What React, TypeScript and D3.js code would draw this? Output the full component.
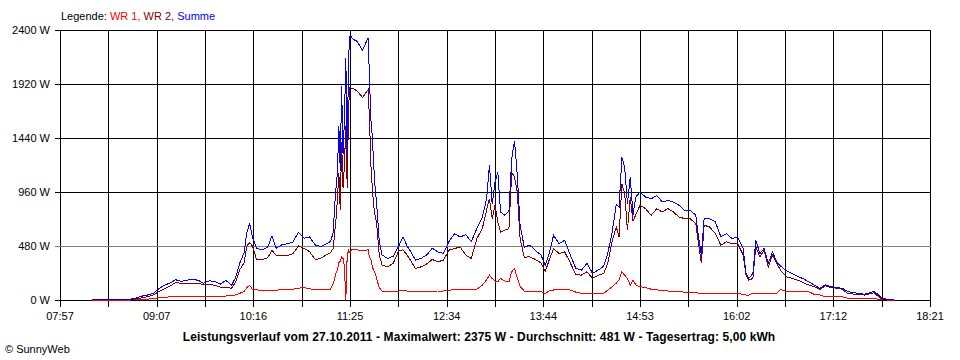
import React from 'react';
import * as d3 from 'd3';

// Zeitpunkte (HH:MM) und Leistung in W
const times = [
  '08:20','08:30','08:40','08:48','08:52','08:56','09:00','09:04','09:08','09:12','09:16','09:20','09:24','09:28','09:32','09:36',
  '09:40','09:44','09:48','09:52','09:56','10:00','10:03','10:06','10:09','10:11','10:13','10:15','10:18','10:22','10:26','10:29',
  '10:32','10:36','10:40','10:44','10:48','10:52','10:56','11:00','11:04','11:08','11:11','11:13','11:14','11:15','11:16','11:17',
  '11:18','11:19','11:20','11:21','11:22','11:23','11:24','11:25','11:26','11:27','11:30','11:34','11:38','11:39','11:40','11:41',
  '11:42','11:43','11:44','11:45','11:46','11:48','11:52','11:56','12:00','12:03','12:06','12:09','12:12','12:16','12:20','12:24',
  '12:28','12:32','12:36','12:40','12:44','12:48','12:52','12:56','13:00','13:03','13:05','13:07','13:09','13:11','13:13','13:16',
  '13:19','13:21','13:23','13:25','13:27','13:30','13:34','13:38','13:42','13:45','13:48','13:51','13:55','13:59','14:03','14:07',
  '14:11','14:15','14:19','14:23','14:27','14:30','14:33','14:36','14:38','14:40','14:42','14:44','14:46','14:48','14:50','14:53',
  '14:57','15:01','15:05','15:09','15:13','15:17','15:21','15:25','15:29','15:33','15:35','15:37','15:39','15:43','15:47','15:51',
  '15:55','15:59','16:03','16:07','16:09','16:11','16:14','16:16','16:19','16:22','16:25','16:28','16:31','16:34','16:38','16:42',
  '16:46','16:50','16:54','16:58','17:02','17:06','17:10','17:14','17:18','17:22','17:28','17:34','17:38','17:41','17:44','17:47',
  '17:50','17:55',
];

const wr1 = [
  0,0,0,0,3,5,8,12,20,25,28,28,30,30,30,30,
  30,30,32,32,35,40,45,60,75,110,130,95,90,85,83,85,
  88,90,92,95,105,110,100,90,89,89,95,150,190,240,270,330,
  345,380,370,300,0,400,440,420,445,445,445,440,445,380,360,300,
  260,240,200,150,110,80,74,74,80,89,80,74,74,74,76,78,
  80,80,85,96,96,96,96,96,133,180,221,190,170,162,192,170,
  162,250,280,192,120,80,74,74,74,59,80,89,89,89,89,70,
  59,59,59,59,59,90,118,150,180,251,220,192,133,177,133,118,
  110,96,90,85,80,74,74,70,68,65,62,60,59,59,59,59,
  59,59,59,50,44,44,59,59,59,59,59,59,59,94,74,74,
  74,74,74,50,44,30,30,30,28,15,10,10,10,10,8,3,
  0,0,
];

const wr2 = [
  5,5,5,5,10,20,30,45,75,100,125,155,148,142,150,150,
  135,140,130,115,110,105,160,270,330,480,510,480,360,360,375,440,
  400,400,395,410,480,460,430,360,370,400,420,460,600,720,900,1130,
  800,1400,1000,1200,1550,1000,1730,1890,1880,1880,1860,1800,1870,1600,1200,1000,
  840,750,690,550,400,310,295,325,440,445,400,340,280,295,320,360,
  340,354,443,458,470,400,369,546,640,800,900,723,841,694,605,620,
  635,1136,1092,959,546,380,384,360,330,251,360,457,413,428,330,225,
  221,251,192,221,236,330,520,650,561,1033,945,620,915,700,760,841,
  812,753,812,782,812,782,738,723,723,679,500,325,664,649,590,487,
  516,502,502,400,220,177,192,472,384,443,295,398,325,260,207,192,
  177,155,133,118,94,125,112,105,95,59,50,44,55,65,30,6,
  3,0,
];

const summe = [
  5,5,5,8,20,35,45,60,100,133,150,180,165,175,185,175,
  150,170,165,140,175,130,200,330,420,600,680,560,460,445,470,570,
  460,490,500,515,600,550,560,490,475,500,520,600,840,1000,1140,1550,
  1150,1900,1300,1600,2150,1300,2170,2347,2340,2320,2300,2220,2330,1960,1600,1450,
  1200,1000,870,700,520,400,369,390,480,560,480,420,354,370,400,460,
  428,413,520,590,560,580,520,635,740,900,1200,850,1048,1136,782,753,
  790,1255,1417,1107,664,470,487,440,400,310,420,576,500,531,400,280,
  266,325,236,266,300,420,600,850,826,1269,1181,856,1092,760,915,959,
  915,900,930,871,885,871,841,797,797,753,561,398,723,723,694,561,
  590,546,561,457,240,192,236,531,413,457,325,428,339,300,260,236,
  210,190,162,133,103,135,118,110,105,74,62,52,65,80,44,15,
  8,8,
];

const yTicks = [0, 480, 960, 1440, 1920, 2400];
const xLabels = ['07:57', '09:07', '10:16', '11:25', '12:34', '13:44', '14:53', '16:02', '17:12', '18:21'];

const title = 'Leistungsverlauf vom 27.10.2011 - Maximalwert: 2375 W - Durchschnitt: 481 W - Tagesertrag: 5,00 kWh';

const toMin = (s: string) => {
  const [h, m] = s.split(':').map(Number);
  return h * 60 + m;
};

const FONT = '"Liberation Sans", Arial, sans-serif';

export default function App() {
  const left = 60, right = 930, top = 30, bottom = 300;
  const x = d3.scaleLinear().domain([toMin('07:57'), toMin('18:21')]).range([left, right]);
  const y = d3.scaleLinear().domain([0, 2400]).range([bottom, top]);
  const px = (v: number) => Math.round(v) + 0.5;

  const line = d3.line<number>()
    .x((_, i) => x(toMin(times[i])))
    .y(d => y(d));

  const series = [
    { name: 'WR 1', values: wr1, color: '#ff0000' },
    { name: 'WR 2', values: wr2, color: '#800000' },
    { name: 'Summe', values: summe, color: '#0000ff' },
  ];

  // 18 Rasterintervalle, jedes zweite beschriftet
  const gridX = d3.range(19).map(i => left + (i * (right - left)) / 18);

  return (
    <svg width={960} height={360} style={{ position: 'absolute', left: 0, top: 0, background: '#fff' }}
      fontFamily={FONT} fontSize={11}>
      <rect width={960} height={360} fill="#fff" />

      {/* Raster */}
      {gridX.map((gx, i) => (
        <line key={'v' + i} x1={px(gx)} x2={px(gx)} y1={px(y(2400))} y2={px(y(0)) + 6}
          stroke="#000" shapeRendering="crispEdges" />
      ))}
      {yTicks.map(t => (
        <line key={'h' + t} x1={left - 5} x2={px(right)} y1={px(y(t))} y2={px(y(t))}
          stroke={t === 480 ? '#808080' : '#000'} shapeRendering="crispEdges" />
      ))}

      {/* Kurven */}
      {series.map(s => (
        <path key={s.name} d={line(s.values) || ''} fill="none" stroke={s.color} strokeWidth={1}
          shapeRendering="crispEdges" />
      ))}

      {/* Achsenbeschriftung */}
      {yTicks.map(t => (
        <text key={'yl' + t} x={50} y={y(t)} dy="0.35em" textAnchor="end" fill="#000">{t} W</text>
      ))}
      {xLabels.map((lab, i) => (
        <text key={'xl' + i} x={gridX[i * 2]} y={320} textAnchor="middle" fill="#000">{lab}</text>
      ))}

      {/* Legende */}
      <text x={61} y={20} fill="#000">
        Legende: <tspan fill="#ff0000">WR 1, </tspan><tspan fill="#800000">WR 2, </tspan><tspan fill="#0000ff">Summe</tspan>
      </text>

      <text x={479} y={341} textAnchor="middle" fontWeight="bold" fontSize={12} letterSpacing={0.1} fill="#000">{title}</text>
      <text x={5} y={353} fill="#000" fontSize={11}>© SunnyWeb</text>
    </svg>
  );
}
